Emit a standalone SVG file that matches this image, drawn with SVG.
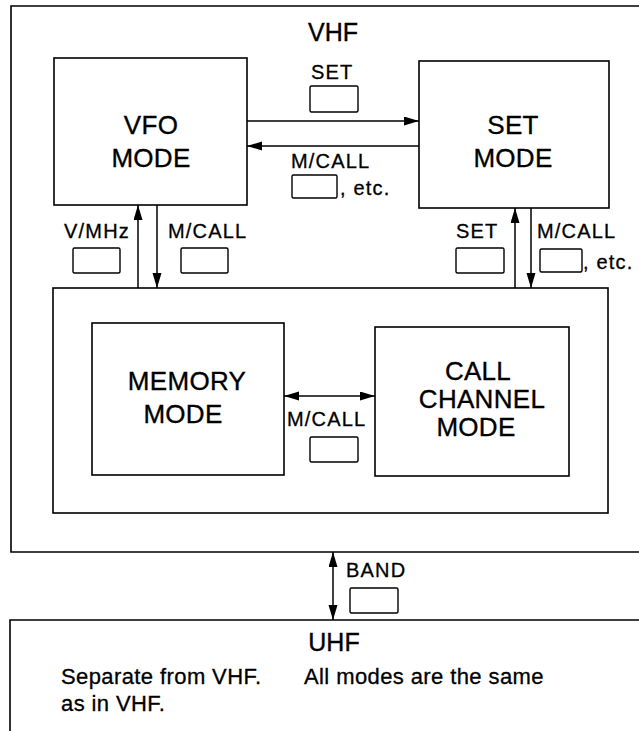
<svg xmlns="http://www.w3.org/2000/svg" width="639" height="731" viewBox="0 0 639 731">
<style>
.box{fill:none;stroke:#000;stroke-width:1.6}
.key{fill:#fff;stroke:#000;stroke-width:1.4}
.big{font-family:"Liberation Sans",Arial,sans-serif;font-size:26px;text-anchor:middle;fill:#000;stroke:#000;stroke-width:0.35px;letter-spacing:0.3px}
.title{font-family:"Liberation Sans",Arial,sans-serif;font-size:25px;text-anchor:middle;fill:#000;stroke:#000;stroke-width:0.35px}
.lbl{font-family:"Liberation Sans",Arial,sans-serif;font-size:20px;fill:#000;stroke:#000;stroke-width:0.3px;letter-spacing:1.2px}
.body{font-family:"Liberation Sans",Arial,sans-serif;font-size:22px;fill:#000;stroke:#000;stroke-width:0.3px;letter-spacing:0.4px}
.ln{fill:none;stroke:#000;stroke-width:1.5}
</style>
<defs>
<marker id="ah" markerUnits="userSpaceOnUse" markerWidth="16" markerHeight="10" refX="15" refY="4.5" orient="auto-start-reverse">
<path d="M0,0 L15,4.5 L0,9 z" fill="#000"/>
</marker>
</defs>
<rect width="639" height="731" fill="#fff"/>

<g id="vhf">
<path class="box" d="M650,6 H11 V552 H650"/>
<text class="title" x="333" y="41">VHF</text>
</g>

<g id="vfo-mode">
<rect class="box" x="54" y="58" width="193" height="147"/>
<text class="big" x="151" y="134">VFO</text>
<text class="big" x="151" y="167">MODE</text>
</g>

<g id="set-mode">
<rect class="box" x="419" y="61" width="190" height="147"/>
<text class="big" x="513" y="134">SET</text>
<text class="big" x="513" y="167">MODE</text>
</g>

<g id="memory-call-group">
<rect class="box" x="53" y="288" width="555" height="225"/>
</g>

<g id="memory-mode">
<rect class="box" x="92" y="323" width="192" height="152"/>
<text class="big" x="187" y="390">MEMORY</text>
<text class="big" x="183" y="423">MODE</text>
</g>

<g id="call-channel-mode">
<rect class="box" x="375" y="327" width="194" height="149"/>
<text class="big" x="478" y="380">CALL</text>
<text class="big" x="482" y="408">CHANNEL</text>
<text class="big" x="476" y="436">MODE</text>
</g>

<g id="uhf">
<path class="box" d="M650,620 H10 V740"/>
<text class="title" x="334" y="651">UHF</text>
<text class="body" y="684"><tspan x="61">Separate from VHF.</tspan><tspan x="304">All modes are the same</tspan></text>
<text class="body" x="61" y="711">as in VHF.</text>
</g>

<g id="connectors">
<line class="ln" x1="247" y1="121" x2="419" y2="121" marker-end="url(#ah)"/>
<line class="ln" x1="419" y1="146" x2="247" y2="146" marker-end="url(#ah)"/>
<line class="ln" x1="138" y1="288" x2="138" y2="205" marker-end="url(#ah)"/>
<line class="ln" x1="157" y1="205" x2="157" y2="288" marker-end="url(#ah)"/>
<line class="ln" x1="515" y1="288" x2="515" y2="208" marker-end="url(#ah)"/>
<line class="ln" x1="531" y1="208" x2="531" y2="288" marker-end="url(#ah)"/>
<line class="ln" x1="284" y1="396" x2="375" y2="396" marker-start="url(#ah)" marker-end="url(#ah)"/>
<line class="ln" x1="333" y1="552" x2="333" y2="620" marker-start="url(#ah)" marker-end="url(#ah)"/>
</g>

<g id="connector-labels">
<text class="lbl" x="311" y="79">SET</text>
<rect class="key" x="310" y="86" width="48" height="26" rx="1.5"/>
<text class="lbl" x="291" y="168">M/CALL</text>
<rect class="key" x="292" y="175" width="45" height="23" rx="1.5"/>
<text class="lbl" x="340" y="195">, etc.</text>

<text class="lbl" x="64" y="238">V/MHz</text>
<rect class="key" x="73" y="248" width="47" height="25" rx="1.5"/>
<text class="lbl" x="168" y="238">M/CALL</text>
<rect class="key" x="181" y="248" width="47" height="25" rx="1.5"/>

<text class="lbl" x="456" y="238">SET</text>
<rect class="key" x="456" y="248" width="48" height="25" rx="1.5"/>
<text class="lbl" x="537" y="238">M/CALL</text>
<rect class="key" x="540" y="249" width="42" height="23" rx="1.5"/>
<text class="lbl" x="583" y="269">, etc.</text>

<text class="lbl" x="287" y="426">M/CALL</text>
<rect class="key" x="310" y="437" width="48" height="25" rx="1.5"/>

<text class="lbl" x="346" y="577">BAND</text>
<rect class="key" x="350" y="588" width="48" height="25" rx="1.5"/>
</g>
</svg>
